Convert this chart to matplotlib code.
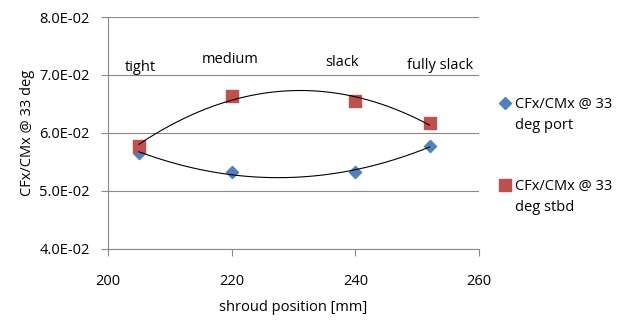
import numpy as np
import matplotlib.pyplot as plt

plt.rcParams['font.family'] = ['Open Sans', 'DejaVu Sans']

shroud = [205, 220, 240, 252]
port = [0.0566, 0.0532, 0.0532, 0.0578]
stbd = [0.0578, 0.0663, 0.0655, 0.0617]
states = ['tight', 'medium', 'slack', 'fully slack']
state_x = [205.2, 219.7, 237.8, 253.7]
state_y = [0.0713, 0.0726, 0.0722, 0.0717]
series_names = ['CFx/CMx @ 33\ndeg port', 'CFx/CMx @ 33\ndeg stbd']

fig = plt.figure(figsize=(6.23, 3.21), dpi=100)
ax = fig.add_axes([0.1734, 0.2245, 0.5956, 0.7225])

ax.scatter(shroud, port, marker='D', s=38, color='#4F81BD', zorder=3)
ax.scatter(shroud, stbd, marker='s', s=80, color='#C0504D', zorder=3)

# second order trendlines over the measured range
xs = np.linspace(shroud[0], shroud[-1], 200)
for ys in (port, stbd):
    c = np.polyfit(shroud, ys, 2)
    ax.plot(xs, np.polyval(c, xs), color='black', lw=0.8, zorder=4)

for s, x, y in zip(states, state_x, state_y):
    ax.text(x, y, s, ha='center', va='center', fontsize=10.5)

ax.set_xlim(200, 260)
ax.set_ylim(0.04, 0.08)
ax.set_xticks([200, 220, 240, 260])
ax.set_yticks([0.04, 0.05, 0.06, 0.07, 0.08])
ax.set_yticklabels(['%.1E' % v for v in [0.04, 0.05, 0.06, 0.07, 0.08]])
ax.yaxis.grid(True, color='#888888', lw=0.8)
ax.set_axisbelow(True)
for side in ('top', 'right'):
    ax.spines[side].set_visible(False)
for side in ('left', 'bottom'):
    ax.spines[side].set_color('#888888')
ax.tick_params(colors='#888888', labelcolor='black', labelsize=10.5, length=5)
ax.tick_params(axis='y', pad=8)
ax.tick_params(axis='x', pad=13)

ax.set_xlabel('shroud position [mm]', fontsize=10.5, labelpad=8)
ax.set_ylabel('CFx/CMx @ 33 deg', fontsize=10.5, labelpad=3)

# legend on the right, marker lined up with the first text line
legend_y = [1 - 103 / 321, 1 - 185 / 321]
for name, m, sz, col, ly in zip(series_names, ['D', 's'], [6.5, 9],
                                ['#4F81BD', '#C0504D'], legend_y):
    fig.lines.append(plt.Line2D([505 / 623], [ly], marker=m, markersize=sz,
                                color=col, linestyle='none',
                                transform=fig.transFigure))
    fig.text(515 / 623, ly + 0.018, name, fontsize=10.5, va='top', ha='left',
             linespacing=1.5)

fig.savefig('out.png', dpi=100)
